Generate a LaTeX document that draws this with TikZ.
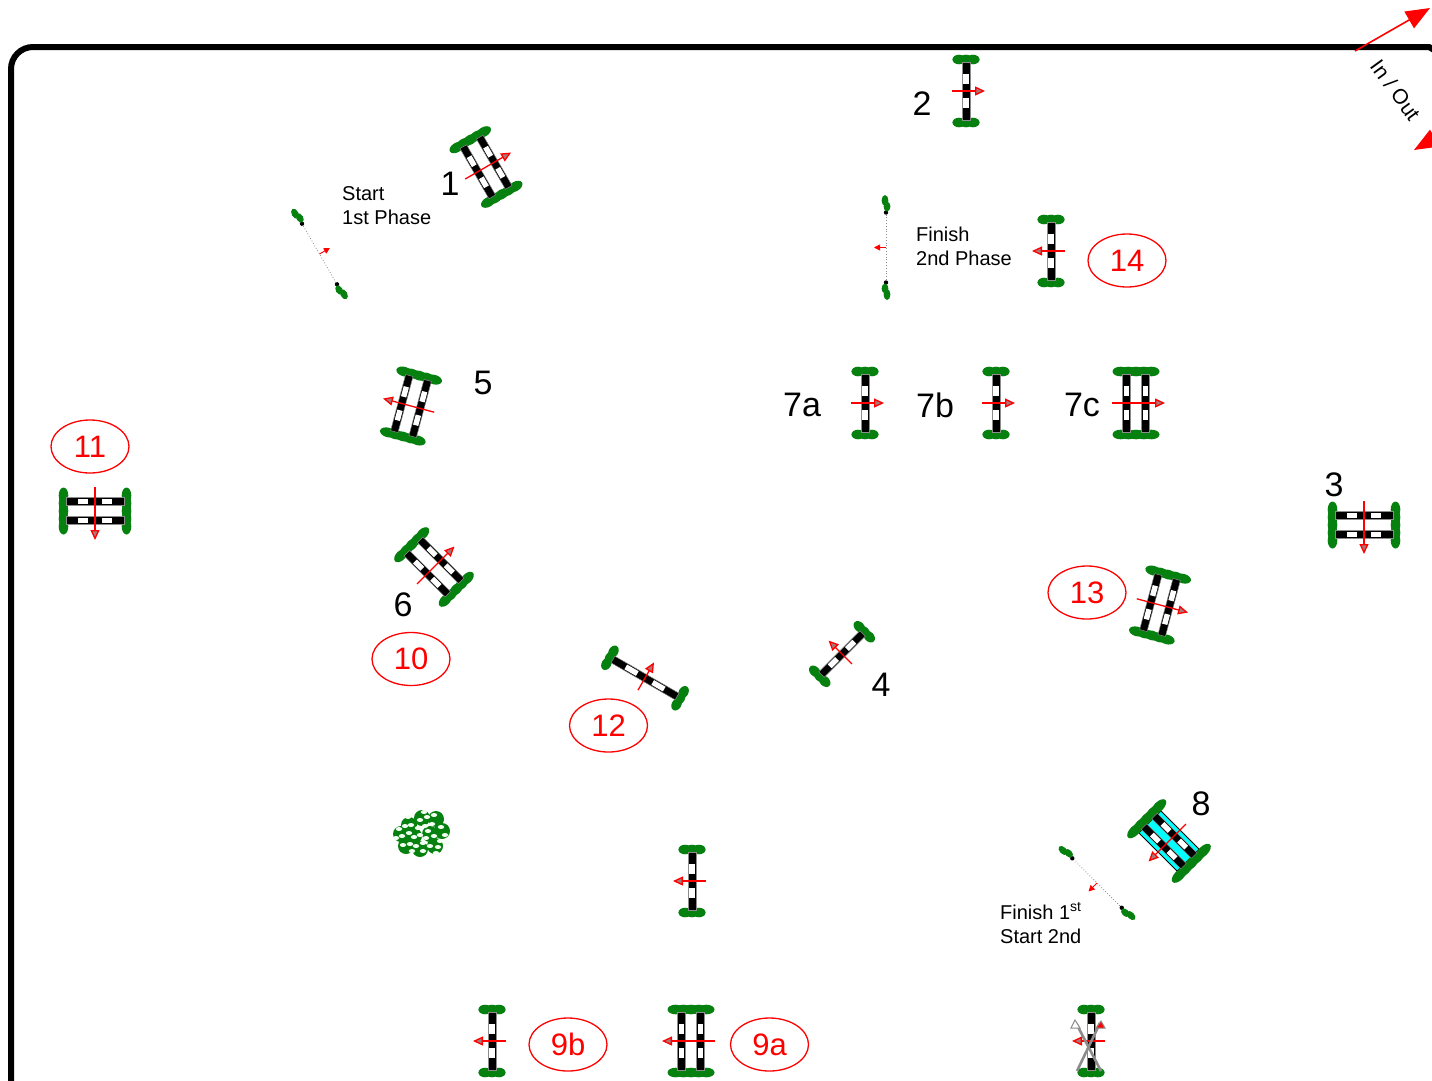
\documentclass[tikz,border=0pt]{standalone}
\usepackage{fontspec}
\usepackage{tikz}
\usetikzlibrary{arrows.meta,shapes.geometric}
\setmainfont{Liberation Sans}
\definecolor{CourseRed}{HTML}{FF0000}
\definecolor{CourseGreen}{HTML}{06800F}
\definecolor{CourseCyan}{HTML}{00FFFF}
\definecolor{CourseGrey}{HTML}{8C8C8C}
\definecolor{TipCore}{HTML}{A87878}
\newcommand{\railbar}[2]{%
  \filldraw[draw=CourseGrey,fill=black,line width=.5pt] (#1-3.8,-#2) rectangle (#1+3.8,#2);
  \fill[white] (#1-2.7,-.6*#2) rectangle (#1+2.7,-.24*#2);
  \fill[white] (#1-2.7,.24*#2) rectangle (#1+2.7,.6*#2);}
\newcommand{\wingpair}[3]{%
  \foreach \w in {#1} {
    \fill[CourseGreen] (\w,-#2) ellipse (#3 and 4.8);
    \fill[CourseGreen] (\w,#2) ellipse (#3 and 4.8);
  }}
\tikzset{
  jumparrow/.style={-{Triangle[length=10pt,width=9pt,fill=TipCore]},draw=CourseRed,line width=1.3pt},
  fence/.pic={
    \wingpair{-7,0,7}{31.5}{6.6}
    \railbar{0}{29}
    \draw[jumparrow] (-14,0) -- (19,0);
  },
  longfence/.pic={
    \wingpair{-7,0,7}{40.5}{6.6}
    \railbar{0}{37}
    \draw[jumparrow] (-14,0) -- (18,0);
  },
  oxer/.pic={
    \wingpair{-15.5,-7.75,0,7.75,15.5}{31.5}{8}
    \railbar{-9.5}{29}
    \railbar{9.5}{29}
    \draw[jumparrow] (-24,0) -- (29,0);
  },
  wateroxer/.pic={
    \filldraw[draw=black,fill=CourseCyan,line width=.9pt] (-15.5,-27) rectangle (15.5,27);
    \wingpair{-17,-8.5,0,8.5,17}{31.5}{9.5}
    \railbar{-7.5}{28}
    \railbar{7.5}{28}
    \draw[jumparrow] (-24,0) -- (29,0);
  },
  gate/.pic={
    \draw[CourseGrey,line width=.8pt,dotted] (0,-35) -- (0,35);
    \fill[black] (0,-35) circle (2.2);
    \fill[black] (0,35) circle (2.2);
    \fill[CourseGreen] (-1,-47) ellipse (3.4 and 5.5);
    \fill[CourseGreen] (1,-41) ellipse (3.4 and 5);
    \fill[CourseGreen] (-1,41) ellipse (3.4 and 5);
    \fill[CourseGreen] (1,47) ellipse (3.4 and 5.5);
    \draw[-{Triangle[length=6pt,width=6pt]},draw=CourseRed,line width=.9pt] (0,0) -- (12,0);
  }
}
\begin{document}
\begin{tikzpicture}[
    x=1pt,y=-1pt,
    jumpno/.style={font=\fontsize{34}{36}\selectfont,inner sep=0pt},
    roundno/.style={draw=CourseRed,text=CourseRed,ellipse,line width=1.3pt,inner sep=0pt,
      minimum width=78pt,minimum height=53pt,font=\fontsize{31}{34}\selectfont},
    phase/.style={font=\fontsize{20}{24}\selectfont,align=left,anchor=west,inner sep=0pt},
    arena/.style={draw=black,line width=6pt},
    bigarrow/.style={-{Triangle[length=24pt,width=19pt]},draw=CourseRed,line width=1.6pt}
  ]
    \useasboundingbox (0,0) rectangle (1432,1080);
    \clip (0,0) rectangle (1432,1080);
    \draw[arena] [rounded corners=22pt] (11,1110) -- (11,47) [sharp corners] -- (1429,47) -- (1434,50);

    % in and out
    \coordinate (gateA) at (1355,51);
    \coordinate (tipA) at (1430,8);
    \coordinate (gateB) at (1489,107);
    \coordinate (tipB) at (1414,150);
    \draw[bigarrow] (gateA) -- (tipA);
    \draw[bigarrow] (gateB) -- (tipB);
    \node[font=\fontsize{21}{24}\selectfont,rotate=-54,inner sep=0pt] (inout) at (1395.5,90) {In / Out};

    % jumps
    \pic[rotate=30] at (486,167) {oxer};
    \pic at (966,91) {fence};
    \pic[rotate=180] at (1051,251) {fence};
    \pic at (865,403) {fence};
    \pic at (996,403) {fence};
    \pic at (1136,403) {oxer};
    \pic[rotate=165] at (411,406) {oxer};
    \pic[rotate=45] at (434,567) {oxer};
    \pic[rotate=-90] at (95,511) {oxer};
    \pic[rotate=-90] at (1364,525) {oxer};
    \pic[rotate=-15] at (1160,605) {oxer};
    \pic[rotate=135] at (842,654) {fence};
    \pic[rotate=60] at (645,678) {longfence};
    \pic[rotate=225] at (1169,841) {wateroxer};
    \pic[rotate=180] at (692,881) {fence};
    \pic[rotate=180] at (492,1041) {fence};
    \pic[rotate=180] at (691,1041) {oxer};
    \pic[rotate=180] at (1091,1041) {fence};

    % crossed out
    \draw[CourseGrey,line width=2.6pt] (1077,1071) -- (1100,1023);
    \draw[CourseGrey,line width=2.6pt] (1101,1071) -- (1076,1023);
    \filldraw[draw=CourseGrey,fill=white,line width=1pt] (1071,1028) -- (1075,1020) -- (1080,1028) -- cycle;
    \filldraw[draw=CourseGrey,fill=CourseRed,line width=1pt] (1096,1028) -- (1101,1021) -- (1105,1028) -- cycle;

    % start and finish lines
    \pic[rotate=30] at (319.5,254) {gate};
    \pic[rotate=180] at (886,247.5) {gate};
    \pic[rotate=225] at (1097,883) {gate};

    % bush
    \foreach \x/\y in {409/825,422/818,436/819,442/831,435/846,420/849,406/846,401/834,414/836,430/834}
      \fill[CourseGreen] (\x,\y) circle (8);
    \foreach \x/\y in {408/817,424/812,434/815,420/820,427/817,432/824,411/825,399/829,405/826,418/828,
        425/826,428/831,441/827,445/835,402/836,409/833,414/837,420/835,426/838,434/836,440/841,
        447/843,403/845,410/844,416/846,423/843,430/846,438/847,423/851,436/853,412/851,396/838}
      \fill[white!94!green] (\x,\y) ellipse (3.2 and 2);

    % jump numbers
    \node[jumpno] (no1) at (450,184) {1};
    \node[jumpno] (no2) at (922,104) {2};
    \node[jumpno] (no3) at (1334,485) {3};
    \node[jumpno] (no4) at (881,685) {4};
    \node[jumpno] (no5) at (483,383) {5};
    \node[jumpno] (no6) at (403,605) {6};
    \node[jumpno] (no7a) at (802,405) {7a};
    \node[jumpno] (no7b) at (935,405) {7b};
    \node[jumpno] (no7c) at (1082,405) {7c};
    \node[jumpno] (no8) at (1201,804) {8};

    \node[roundno] (no9a) at (769.5,1044.5) {9a};
    \node[roundno] (no9b) at (568,1044.5) {9b};
    \node[roundno] (no10) at (411,659) {10};
    \node[roundno] (no11) at (90,446.5) {11};
    \node[roundno] (no12) at (608.5,725.5) {12};
    \node[roundno] (no13) at (1087,592.5) {13};
    \node[roundno] (no14) at (1127,260.5) {14};

    \node[phase] (startfirst) at (342,206) {Start\\1st Phase};
    \node[phase] (finishsecond) at (916,246) {Finish\\2nd Phase};
    \node[phase] (finishfirst) at (1000,923) {Finish 1\textsuperscript{st}\\Start 2nd};
\end{tikzpicture}
\end{document}
